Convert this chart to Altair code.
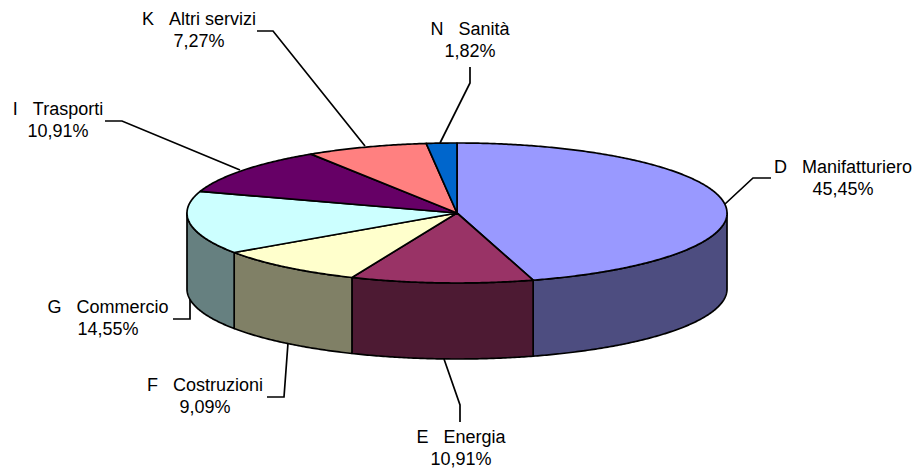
import math
import altair as alt

# Chart values
codes = ["D", "E", "F", "G", "I", "K", "N"]
sectors = ["Manifatturiero", "Energia", "Costruzioni", "Commercio", "Trasporti", "Altri servizi", "Sanità"]
shares = [45.45, 10.91, 9.09, 14.55, 10.91, 7.27, 1.82]
share_labels = ["45,45%", "10,91%", "9,09%", "14,55%", "10,91%", "7,27%", "1,82%"]
top_colors = ["#9999FF", "#993366", "#FFFFCC", "#CCFFFF", "#660066", "#FF8080", "#0066CC"]
side_colors = ["#4D4D80", "#4D1A33", "#808066", "#668080", "#330033", "#804040", "#003366"]

# Layout (page pixels)
OFFSET = 8
CX, CY, RX, RY, DEPTH = 457, 213, 270, 70, 76
leaders = [
    [(725, 204), (753, 178), (771, 178)],
    [(444, 359), (460, 405), (460, 422)],
    [(288, 343), (284, 397), (267, 397)],
    [(190, 298), (190, 319), (173, 319)],
    [(240, 170), (122, 121), (105, 121)],
    [(365, 146), (273, 31), (257, 31)],
    [(440, 143), (470, 83), (470, 67)],
]
label_anchor = [(843, 173), (461, 443), (205, 391), (108, 313), (58, 115), (199, 25), (470, 35)]
GAP = "\u00a0\u00a0\u00a0"


def page(x, y):
    return [x - OFFSET, y - OFFSET]


def rim(t, drop=0):
    a = math.radians(t)
    return page(CX + RX * math.sin(a), CY - RY * math.cos(a) + drop)


def sweep(a, b, drop=0):
    n = max(2, int(abs(b - a) * 2))
    return [rim(a + (b - a) * i / n, drop) for i in range(n + 1)]


def feature(ring, fill):
    return {"type": "Feature", "properties": {"fill": fill},
            "geometry": {"type": "Polygon", "coordinates": [ring]}}


total = sum(shares)
starts, acc = [], 0.0
for s in shares:
    starts.append(acc / total * 360)
    acc += s
ends = starts[1:] + [360.0]

walls, tops = [], []
for a, b, top, side in zip(starts, ends, top_colors, side_colors):
    ring = [page(CX, CY)] + sweep(a, b) + [page(CX, CY)]
    tops.append(feature(ring, top))
    lo, hi = max(a, 90), min(b, 270)
    if lo < hi:
        upper = sweep(lo, hi)
        lower = sweep(hi, lo, DEPTH)
        walls.append(feature(upper + lower + [upper[0]], side))

lines = [{"type": "Feature", "properties": {},
          "geometry": {"type": "LineString", "coordinates": [page(*p) for p in pts]}}
         for pts in leaders]

texts = []
for c, n, p, (x, y) in zip(codes, sectors, share_labels, label_anchor):
    lx, ly = page(x, y)
    texts.append({"label": f"{c}{GAP}{n}\n{p}", "lon": lx, "lat": ly})

STROKE = 1.7


def shapes(values):
    return (alt.Chart(alt.Data(values=values))
            .mark_geoshape(stroke="#000000", strokeWidth=STROKE, strokeJoin="round")
            .encode(fill=alt.Fill("properties.fill:N", scale=None))
            .project(type="identity", scale=1, translate=[0, 0]))


leader_layer = (alt.Chart(alt.Data(values=lines))
                .mark_geoshape(filled=False, stroke="#000000", strokeWidth=STROKE)
                .project(type="identity", scale=1, translate=[0, 0]))

text_layer = (alt.Chart(alt.Data(values=texts))
              .mark_text(font="Liberation Sans", fontSize=18, color="#000000", align="center",
                         baseline="alphabetic", lineBreak="\n", lineHeight=22)
              .encode(longitude="lon:Q", latitude="lat:Q", text="label:N")
              .project(type="identity", scale=1, translate=[0, 0]))

chart = (alt.layer(leader_layer, shapes(walls), shapes(tops), text_layer)
         .properties(width=904, height=460, padding=0, background="#FFFFFF")
         .configure_view(stroke=None))

chart.save("out.html", embed_options={"renderer": "svg", "actions": False})
